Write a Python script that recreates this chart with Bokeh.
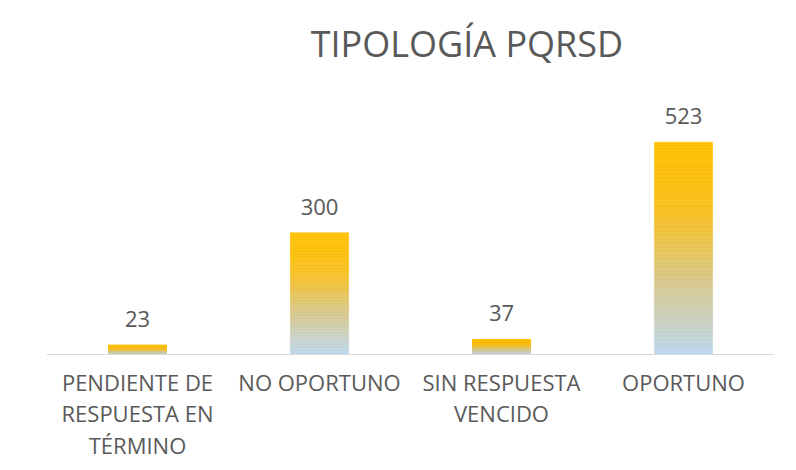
from bokeh.plotting import figure
from bokeh.models import FactorRange, Range1d, Span, Label, ColumnDataSource
from bokeh.embed import file_html
from bokeh.resources import INLINE
from bokeh.core.properties import value

# ---- data ----
categories = ["PENDIENTE DE RESPUESTA EN TÉRMINO", "NO OPORTUNO", "SIN RESPUESTA VENCIDO", "OPORTUNO"]
category_labels = ["PENDIENTE DE\nRESPUESTA EN\nTÉRMINO", "NO OPORTUNO", "SIN RESPUESTA\nVENCIDO", "OPORTUNO"]
counts = [23, 300, 37, 523]
title_text = "TIPOLOGÍA PQRSD"

# ---- gradient helper (bottom light blue -> top gold) ----
stops = [(0.0, (0xBD, 0xD7, 0xEE)), (0.35, (0xD8, 0xC8, 0x8A)), (0.68, (0xF8, 0xC0, 0x1E)), (1.0, (0xFF, 0xC0, 0x00))]

def grad(f):
    for (f0, c0), (f1, c1) in zip(stops[:-1], stops[1:]):
        if f <= f1:
            t = (f - f0) / (f1 - f0) if f1 > f0 else 0
            r, g, b = (round(a + (bb - a) * t) for a, bb in zip(c0, c1))
            return "#%02x%02x%02x" % (r, g, b)
    return "#ffc000"

N = 80
seg_x, seg_bot, seg_top, seg_col = [], [], [], []
for c, v in zip(categories, counts):
    for i in range(N):
        seg_x.append(c)
        seg_bot.append(v * i / N)
        seg_top.append(v * (i + 1) / N)
        seg_col.append(grad((i + 0.5) / N))

seg_src = ColumnDataSource(dict(x=seg_x, bottom=seg_bot, top=seg_top, color=seg_col))
lab_src = ColumnDataSource(dict(x=categories, y=counts, t=[str(v) for v in counts]))
cat_src = ColumnDataSource(dict(x=categories, y=[0] * len(categories), t=category_labels))

p = figure(width=788, height=462, output_backend="svg", toolbar_location=None,
           x_range=FactorRange(factors=categories, range_padding=0),
           y_range=Range1d(-266, 872),
           x_axis_location=None, y_axis_location=None,
           min_border_left=46, min_border_right=14, min_border_top=0, min_border_bottom=0)
p.outline_line_color = None
p.xgrid.visible = False
p.ygrid.visible = False
p.background_fill_color = "white"
p.border_fill_color = "white"

p.vbar(x="x", bottom="bottom", top="top", width=0.32, fill_color="color", line_color="color",
       line_width=0.5, source=seg_src)

p.add_layout(Span(location=0, dimension="width", line_color="#d9d9d9", line_width=1))

p.text(x="x", y="y", text="t", source=lab_src, text_align="center", text_baseline="alphabetic",
       y_offset=-26, text_color="#595959", text_font=value("Open Sans"), text_font_size="22px")

p.text(x="x", y="y", text="t", source=cat_src, text_align="center", text_baseline="top",
       y_offset=12, text_color="#595959", text_font=value("Open Sans"), text_font_size="22px",
       text_line_height=1.05)

p.add_layout(Label(x=2.31, y=767, text=title_text, text_align="center", text_baseline="middle",
                   text_color="#595959", text_font="Open Sans", text_font_size="36px"))

open("out.html", "w").write(file_html(p, INLINE))
